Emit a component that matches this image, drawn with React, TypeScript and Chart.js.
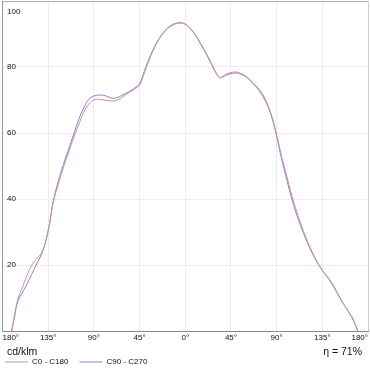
import React, { useEffect, useRef } from "react";
import { Chart, registerables } from "chart.js";

Chart.register(...registerables);

const seriesNames = ["C0 - C180", "C90 - C270"];
const seriesColors = ["rgb(205,140,172)", "rgb(140,128,196)"];

const anglesC0 = [
  -171, -168, -165, -160, -155, -150, -146, -142, -138, -134, -130, -125, -120, -115, -110, -105, -100, -95, -90, -85,
  -80, -75, -70, -65, -60, -55, -50, -45, -40, -35, -30, -25, -20, -15, -10, -5, 0, 5, 10, 15, 20, 25, 30, 34, 37, 40,
  45, 50, 55, 60, 65, 70, 75, 80, 85, 90, 95, 100, 105, 110, 115, 120, 125, 130, 135, 140, 145, 150, 155, 160, 165, 170,
];
const valuesC0 = [
  0, 5, 9.5, 13.5, 17.5, 20.5, 22, 23.5, 26.5, 32, 39, 44.5, 49.5, 54, 58.5, 62.5, 66.3, 68.8, 70, 70.2,
  70, 69.8, 69.7, 70.3, 71.3, 72.3, 73.3, 74.5, 78.5, 82.6, 86, 88.8, 90.8, 92.2, 93, 93.3, 92.9, 91.7, 89.8, 87.2, 84.6, 81.6, 78.5, 76.7, 77.2, 77.8,
  78.3, 78.5, 78, 77.2, 75.8, 74.2, 72.3, 69.5, 65.3, 59.5, 52.8, 47, 41, 36, 31.5, 27.5, 24, 21, 18.4, 16.5, 14.3, 11.5, 8.7, 6.3, 3.8, 0,
];

const anglesC90 = anglesC0;
const valuesC90 = [
  0, 4.5, 9, 11.8, 14.8, 18, 20.5, 23, 26.5, 32, 39.3, 45.5, 50.5, 55, 59.5, 64, 67.6, 70.2, 71.2, 71.5,
  71.4, 70.8, 70.5, 71, 71.8, 72.6, 73.6, 75, 79, 83, 86.3, 89, 91, 92.4, 93.2, 93.4, 93, 91.6, 89.6, 87, 84.3, 81.3, 78.3, 76.8, 77, 77.5,
  78, 78.2, 77.8, 77, 75.5, 73.9, 71.8, 69, 65, 59, 52, 45.8, 40, 35, 30.8, 27, 23.6, 20.8, 18.3, 16.3, 14, 11.3, 8.6, 6.2, 3.6, 0,
];

const xTickLabels = ["180°", "135°", "90°", "45°", "0°", "45°", "90°", "135°", "180°"];
const yTickLabels = ["", "20", "40", "60", "80", "100"];
const unitLabel = "cd/klm";
const efficiencyLabel = "η = 71%";

const FONT = '"Liberation Sans", Arial, sans-serif';
const TEXT = "#111";

const captionPlugin = {
  id: "captions",
  afterDraw(chart: any) {
    const { ctx, chartArea } = chart;
    ctx.save();
    ctx.font = `10.5px ${FONT}`;
    ctx.fillStyle = TEXT;
    ctx.textBaseline = "alphabetic";
    ctx.textAlign = "left";
    ctx.fillText(unitLabel, chartArea.left + 4.5, chartArea.bottom + 24);
    ctx.textAlign = "right";
    ctx.fillText(efficiencyLabel, chartArea.right - 6, chartArea.bottom + 24);
    ctx.restore();
  },
};

export default function App() {
  const ref = useRef<HTMLCanvasElement | null>(null);

  useEffect(() => {
    if (!ref.current) return;
    const toPoints = (xs: number[], ys: number[]) => xs.map((x, i) => ({ x, y: ys[i] }));
    const chart = new Chart(ref.current, {
      type: "line",
      data: {
        datasets: [
          {
            label: seriesNames[0],
            data: toPoints(anglesC0, valuesC0),
            borderColor: seriesColors[0],
            backgroundColor: seriesColors[0],
            borderWidth: 1,
            pointRadius: 0,
            tension: 0.4,
          },
          {
            label: seriesNames[1],
            data: toPoints(anglesC90, valuesC90),
            borderColor: seriesColors[1],
            backgroundColor: seriesColors[1],
            borderWidth: 1,
            pointRadius: 0,
            tension: 0.4,
          },
        ],
      },
      options: {
        responsive: false,
        animation: false,
        devicePixelRatio: 1,
        layout: { padding: { left: -6, right: 2, top: 1, bottom: -6 } },
        font: { family: FONT },
        plugins: {
          tooltip: { enabled: false },
          legend: {
            position: "bottom",
            align: "start",
            labels: {
              usePointStyle: true,
              pointStyle: "line",
              pointStyleWidth: 23,
              padding: 11,
              color: TEXT,
              font: { size: 8, family: FONT },
            },
          },
        },
        scales: {
          x: {
            type: "linear",
            min: -180,
            max: 180,
            afterFit: (s: any) => {
              s.height = 16;
              s.paddingLeft = 0;
              s.paddingRight = 0;
            },
            ticks: {
              stepSize: 45,
              align: "inner",
              autoSkip: false,
              maxRotation: 0,
              padding: 2,
              color: TEXT,
              font: { size: 8, family: FONT },
              callback: (_v: any, i: number) => xTickLabels[i],
            },
            grid: {
              drawTicks: false,
              color: (c: any) => (c.index === 0 ? "#999" : c.index === xTickLabels.length - 1 ? "#d0d0d0" : "#ececec"),
            },
            border: { color: "#888" },
          },
          y: {
            min: 0,
            max: 100,
            afterFit: (s: any) => {
              s.width = 8.5;
              s.paddingTop = 0;
              s.paddingBottom = 0;
            },
            ticks: {
              stepSize: 20,
              mirror: true,
              padding: 4.5,
              color: TEXT,
              font: (c: any) => ({
                size: 8,
                family: FONT,
                lineHeight: c.index === yTickLabels.length - 1 ? 2.75 : 1.2,
              }),
              callback: (_v: any, i: number) =>
                i === yTickLabels.length - 1 ? ["", yTickLabels[i]] : yTickLabels[i],
            },
            grid: {
              drawTicks: false,
              color: (c: any) => (c.index === yTickLabels.length - 1 ? "#b0b0b0" : "#ececec"),
            },
            border: { color: "#999" },
          },
        },
      },
      plugins: [captionPlugin],
    });
    return () => chart.destroy();
  }, []);

  return (
    <div style={{ position: "fixed", left: 0, top: 0, width: 370, height: 370, background: "#fff" }}>
      <canvas ref={ref} width={370} height={370} />
    </div>
  );
}
